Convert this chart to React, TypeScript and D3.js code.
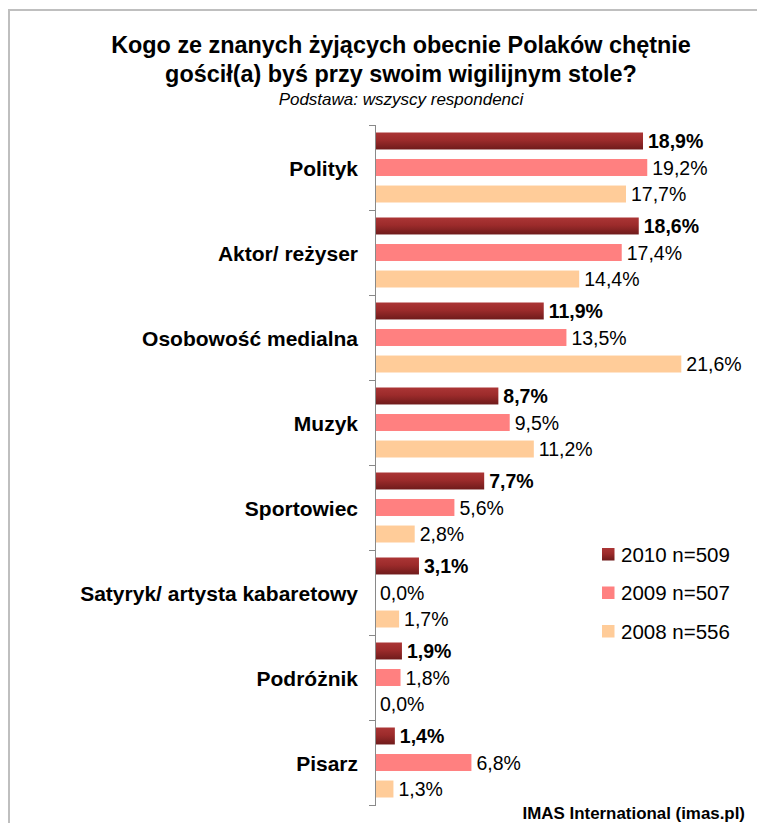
import React, { useRef, useEffect } from 'react';
import * as d3 from 'd3';

const categories = [
    'Polityk',
    'Aktor/ reżyser',
    'Osobowość medialna',
    'Muzyk',
    'Sportowiec',
    'Satyryk/ artysta kabaretowy',
    'Podróżnik',
    'Pisarz',
];

const seriesNames = ['2010 n=509', '2009 n=507', '2008 n=556'];

const values2010 = [18.9, 18.6, 11.9, 8.7, 7.7, 3.1, 1.9, 1.4];
const values2009 = [19.2, 17.4, 13.5, 9.5, 5.6, 0.0, 1.8, 6.8];
const values2008 = [17.7, 14.4, 21.6, 11.2, 2.8, 1.7, 0.0, 1.3];

const titleLines = [
    'Kogo ze znanych żyjących obecnie Polaków chętnie',
    'gościł(a) byś przy swoim wigilijnym stole?',
];
const subtitle = 'Podstawa: wszyscy respondenci';
const source = 'IMAS International (imas.pl)';

const FONT = '"Liberation Sans", Arial, sans-serif';

const App: React.FC = () => {
    const ref = useRef<SVGSVGElement | null>(null);
    const width = 757;
    const height = 823;

    useEffect(() => {
        const svg = d3.select(ref.current);
        svg.selectAll('*').remove();

        const series = [values2010, values2009, values2008];
        const fills = ['url(#darkRed)', '#ff8080', '#ffcc99'];

        const defs = svg.append('defs');
        const grad = defs.append('linearGradient')
            .attr('id', 'darkRed')
            .attr('x1', 0).attr('y1', 0).attr('x2', 0).attr('y2', 1);
        grad.append('stop').attr('offset', '0%').attr('stop-color', '#ab3535');
        grad.append('stop').attr('offset', '45%').attr('stop-color', '#9c2b2b');
        grad.append('stop').attr('offset', '100%').attr('stop-color', '#6f1b1b');

        // frame
        svg.append('path')
            .attr('d', `M9,${height} V10 H${width}`)
            .attr('fill', 'none')
            .attr('stroke', '#bfbfbf')
            .attr('stroke-width', 2);

        // titles
        titleLines.forEach((line, i) => {
            svg.append('text')
                .attr('x', 401)
                .attr('y', 53 + i * 29)
                .attr('text-anchor', 'middle')
                .style('font-family', FONT)
                .style('font-size', '23.4px')
                .style('font-weight', 'bold')
                .text(line);
        });
        svg.append('text')
            .attr('x', 401)
            .attr('y', 105)
            .attr('text-anchor', 'middle')
            .style('font-family', FONT)
            .style('font-size', '17px')
            .style('font-style', 'italic')
            .text(subtitle);

        const x0 = 375;
        const x = d3.scaleLinear().domain([0, 1]).range([x0, x0 + 14.18]);
        const y = d3.scaleBand<string>().domain(categories).range([125, 805]).padding(0);
        const yInner = d3.scaleBand<number>()
            .domain([0, 1, 2])
            .range([7.5, 77.5])
            .paddingInner(0.36)
            .paddingOuter(0);

        const g = svg.append('g');

        categories.forEach((cat, ci) => {
            const bandTop = y(cat) as number;
            series.forEach((vals, si) => {
                const v = vals[ci];
                const yy = bandTop + (yInner(si) as number);
                const bw = yInner.bandwidth();
                if (v > 0) {
                    g.append('rect')
                        .attr('x', x(0))
                        .attr('y', yy)
                        .attr('width', x(v) - x(0))
                        .attr('height', bw)
                        .attr('fill', fills[si]);
                }
                g.append('text')
                    .attr('x', x(v) + 5)
                    .attr('y', yy + bw / 2)
                    .attr('dy', '0.36em')
                    .style('font-family', FONT)
                    .style('font-size', '19.5px')
                    .style('font-weight', si === 0 ? 'bold' : 'normal')
                    .text(d3.format('.1f')(v).replace('.', ',') + '%');
            });
            g.append('text')
                .attr('x', 358)
                .attr('y', bandTop + y.bandwidth() / 2 + 1)
                .attr('dy', '0.36em')
                .attr('text-anchor', 'end')
                .style('font-family', FONT)
                .style('font-size', '21px')
                .style('font-weight', 'bold')
                .text(cat);
        });

        // axis
        const axis = svg.append('g').attr('stroke', '#898989').attr('stroke-width', 1);
        axis.append('line')
            .attr('x1', x0 + 0.5).attr('x2', x0 + 0.5)
            .attr('y1', 125).attr('y2', 806);
        const boundaries = categories.map((c) => y(c) as number).concat([805]);
        boundaries.forEach((b) => {
            axis.append('line')
                .attr('x1', x0 - 6).attr('x2', x0 + 0.5)
                .attr('y1', b + 0.5).attr('y2', b + 0.5);
        });

        // legend
        const legend = svg.append('g').attr('transform', 'translate(602,548)');
        seriesNames.forEach((name, i) => {
            const row = legend.append('g').attr('transform', `translate(0,${i * 38.5})`);
            row.append('rect')
                .attr('width', 12.5)
                .attr('height', 12.5)
                .attr('fill', fills[i]);
            row.append('text')
                .attr('x', 19)
                .attr('y', 6.5)
                .attr('dy', '0.36em')
                .style('font-family', FONT)
                .style('font-size', '20.5px')
                .text(name);
        });

        svg.append('text')
            .attr('x', 745)
            .attr('y', 819)
            .attr('text-anchor', 'end')
            .style('font-family', FONT)
            .style('font-size', '16.9px')
            .style('font-weight', 'bold')
            .text(source);
    }, []);

    return (
        <svg
            ref={ref}
            width={width}
            height={height}
            style={{ position: 'absolute', left: 0, top: 0, background: '#fff' }}
        />
    );
};

export default App;
